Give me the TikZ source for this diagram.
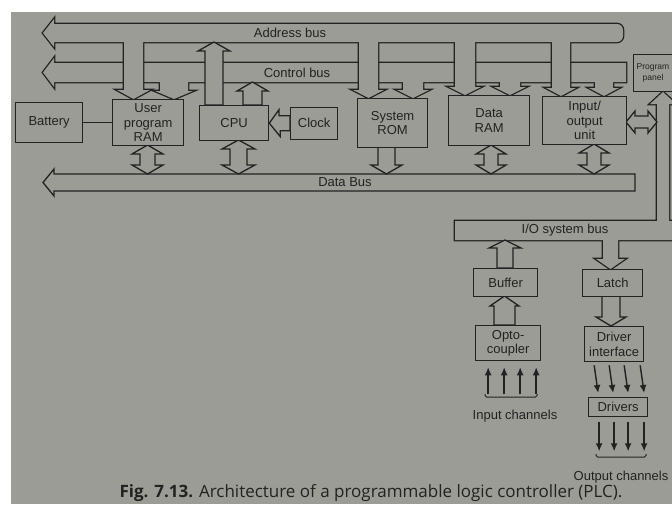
\documentclass[tikz,border=0pt]{standalone}
\usepackage{fontspec}
\setmainfont{Liberation Sans}
\newfontfamily\capfont{Open Sans}
\usepackage{tikz}
\usetikzlibrary{arrows.meta,positioning,calc}
\definecolor{page}{RGB}{156,156,150}
\definecolor{ink}{RGB}{34,34,34}
% 縦の太い矢印（軸 x1,x2／根元 y／先端 y／かえし y／張り出し）
\newcommand{\varrow}[6]{(#1,#3) -- (#1,#5) -- ({#1-#6},#5) -- ({(#1+#2)/2},#4) -- ({#2+#6},#5) -- (#2,#5) -- (#2,#3) -- cycle}
% 縦の両矢印
\newcommand{\vdarrow}[7]{({#1-#7},#4) -- ({(#1+#2)/2},#3) -- ({#2+#7},#4) -- (#2,#4) -- (#2,#5) -- ({#2+#7},#5) -- ({(#1+#2)/2},#6) -- ({#1-#7},#5) -- (#1,#5) -- (#1,#4) -- cycle}
% 横の両矢印
\newcommand{\hdarrow}[7]{(#4,#1) -- (#4,{#1-#7}) -- (#3,{(#1+#2)/2}) -- (#4,{#2+#7}) -- (#4,#2) -- (#5,#2) -- (#5,{#2+#7}) -- (#6,{(#1+#2)/2}) -- (#5,{#1-#7}) -- (#5,#1) -- cycle}
% 左向きの矢印がついたバス
\newcommand{\hbus}[6]{(#5,#1) -- (#4,#1) -- (#4,{#1-#6}) -- (#3,{(#1+#2)/2}) -- (#4,{#2+#6}) -- (#4,#2) -- (#5,#2) -- cycle}

\begin{document}
\begin{tikzpicture}[x=1pt,y=-1pt,
  box/.style={draw=ink,line width=1.3pt,fill=page,align=center,inner sep=0pt,text=ink,anchor=north west,font=\fontsize{13}{14.5}\selectfont},
  lbl/.style={text=ink,inner sep=0pt,font=\fontsize{13}{14.5}\selectfont},
  wide/.style={draw=ink,line width=1.3pt,fill=page},
  busout/.style={draw=ink,line width=2.6pt},
  busin/.style={fill=page},
  chan/.style={draw=ink,line width=1.4pt,-{Latex[length=8pt,width=7pt]}},
  brace/.style={draw=ink,line width=1pt,rounded corners=1.5pt}]
  \useasboundingbox (0,0) rectangle (672,504);
  \fill[white] (0,0) rectangle (672,504); % 写真の余白
  \fill[page] (11,12) rectangle (672,504); % 紙面
  \clip (0,0) rectangle (672,504);

  % 制御バス
  \foreach \s in {busout,busin} {
    \path[\s] \hbus{63}{82}{43}{54}{626}{5};
    \path[\s] \varrow{160}{188}{75}{99}{91}{5};
    \path[\s] \varrow{403}{423}{75}{98}{90}{6};
    \path[\s] \varrow{500}{520}{75}{95}{87}{6};
    \path[\s] \varrow{595}{613}{75}{96}{88}{6};
  }
  % アドレスバス
  \foreach \s in {busout,busin} {
    \path[\s] (54,42) -- (54,47) -- (43,33) -- (54,19) -- (54,24) -- (560,24) [rounded corners=6pt] -- (623,24) -- (623,42) [sharp corners] -- cycle;
    \path[\s] \varrow{124}{143}{35}{99}{90}{7};
    \path[\s] \varrow{359}{378}{35}{98}{90}{6};
    \path[\s] \varrow{455}{475}{35}{95}{87}{6};
    \path[\s] \varrow{552}{570}{35}{96}{88}{6};
  }
  \path[wide] \varrow{205}{223}{105}{42}{51}{7}; % CPU→アドレスバス
  \path[wide] \varrow{243}{262}{105}{82}{91}{6}; % CPU→制御バス

  % データバス
  \path[wide] \hbus{174}{191}{43}{54}{635}{5};
  \path[wide] \vdarrow{140}{155}{145}{154}{165}{174}{8};
  \path[wide] \vdarrow{230}{247}{140}{149}{165}{174}{8};
  \path[wide] \varrow{378}{395}{147}{174}{165}{7};
  \path[wide] \vdarrow{484}{498}{145}{154}{165}{174}{8};
  \path[wide] \vdarrow{587}{601}{144}{153}{165}{174}{8};

  % I/Oシステムバス
  \foreach \s in {busout,busin} {
    \path[\s] (455,221) -- (657,221) -- (657,104) -- (650,104) -- (663,92) -- (676,104) -- (669,104) -- (669,221) -- (690,221) -- (690,240) -- (455,240) -- cycle;
    \path[\s] \varrow{603}{618}{232}{269}{259}{7};
  }
  \path[wide] \hdarrow{116}{128}{626}{635}{648}{657}{5}; % 入出力ユニット↔パネル
  \path[wide] \varrow{497}{513}{268}{240}{248}{8};
  \path[wide] \varrow{494}{515}{325}{296}{306}{4};
  \path[wide] \varrow{602}{620}{296}{326}{317}{6};

  \node[box,minimum width=67pt,minimum height=40pt] (bat) at (15,102) {Battery};
  \node[box,minimum width=71pt,minimum height=46pt] (ram) at (112,99) {User\\program\\RAM};
  \node[box,minimum width=69pt,minimum height=35pt] (cpu) at (199,105) {CPU};
  \node[box,minimum width=47pt,minimum height=32pt] (clock) at (290,106.5) {Clock};
  \node[box,minimum width=70pt,minimum height=49pt] (rom) at (357,98) {System\\ROM};
  \node[box,minimum width=81pt,minimum height=50pt] (dram) at (448,95) {Data\\RAM};
  \node[box,minimum width=84pt,minimum height=48pt] (iou) at (542,96) {Input/\\output\\unit};
  \node[box,minimum width=64pt,minimum height=37pt] (panel) at (633,54) {};
  \node[lbl,font=\fontsize{8.5}{11}\selectfont,align=center] (paneltxt) at (653,72.5) {Program\\panel};
  \node[box,minimum width=64pt,minimum height=28pt] (buf) at (473,268) {Buffer};
  \node[box,minimum width=60pt,minimum height=27pt] (latch) at (582,269) {Latch};
  \node[box,minimum width=65pt,minimum height=35pt] (opto) at (475,325) {Opto-\\coupler};
  \node[box,minimum width=59pt,minimum height=35pt] (drvif) at (584,326) {Driver\\interface};
  \node[box,minimum width=59pt,minimum height=19pt] (drv) at (588,397) {Drivers};

  \draw[ink,line width=1.2pt] (bat.east) -- (ram.west); % 電池とRAMの接続
  \path[wide] ([yshift=7.5pt]clock.west) -- ++(-11,0) -- ++(0,-6) -- (cpu.east) -- ++(11,13.5) -- ++(0,-6) -- ([yshift=-7.5pt]clock.west) -- cycle; % クロック→CPU

  \node[lbl] (addr) at (290,32.5) {Address bus};
  \node[lbl] (ctrl) at (297,72.5) {Control bus};
  \node[lbl] (data) at (345,182.5) {Data Bus};
  \node[lbl] (iobus) at (565,230.5) {I/O system bus};

  \foreach \dx in {-20,-4,12,28}
    \draw[chan] ([xshift=\dx pt,yshift=-33pt]opto.south) -- ([xshift=\dx pt,yshift=-6pt]opto.south); % 入力チャネル
  \foreach \dx in {-20,-5,10,26}
    \draw[chan] ([xshift=\dx pt,yshift=-3pt]drvif.south) -- ([xshift=\dx pt,yshift=4pt]drv.north); % ドライバへ
  \foreach \dx in {-19,-4,10,26}
    \draw[chan] ([xshift=\dx pt,yshift=-5pt]drv.south) -- ([xshift=\dx pt,yshift=-34pt]drv.south); % 出力チャネル
  \draw[brace] (485,394) -- (485,397) -- (537,397) -- (537,394);
  \draw[brace] (596,454) -- (596,457) -- (646,457) -- (646,454);
  \node[lbl] (inch) at (515,416) {Input channels};
  \node[lbl] (outch) at (621,477) {Output channels};

  \node[text=ink,inner sep=0pt,font=\capfont\fontsize{17}{20}\selectfont] (cap) at (371,493) {\textbf{Fig. 7.13.} Architecture of a programmable logic controller (PLC).};
\end{tikzpicture}
\end{document}
